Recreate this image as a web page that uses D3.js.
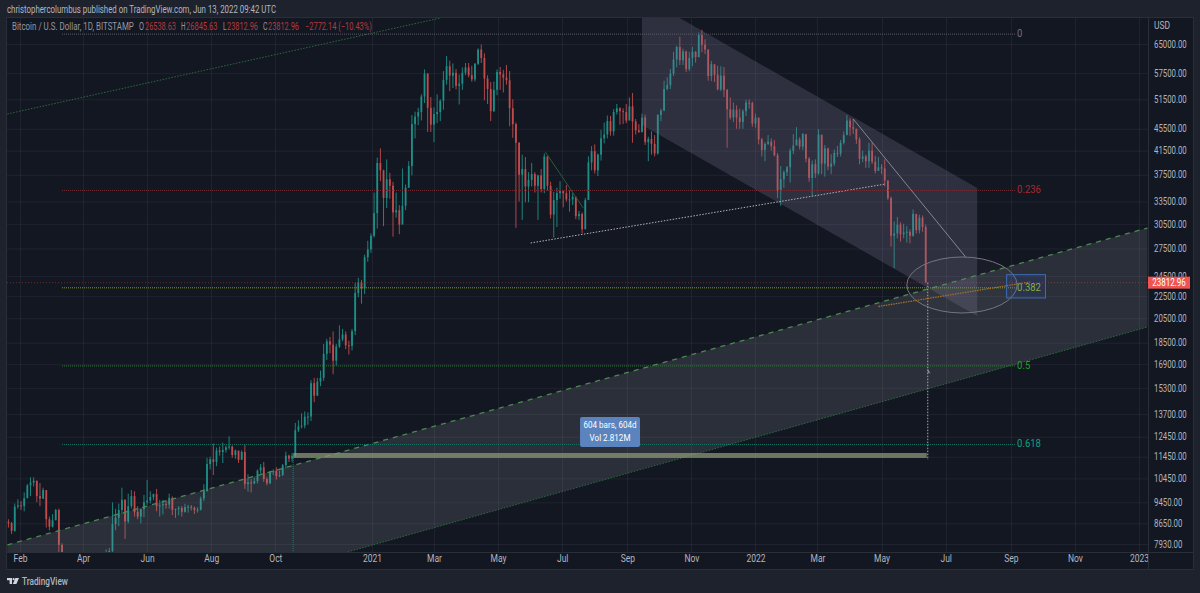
<!DOCTYPE html>
<html>
<head>
<meta charset="utf-8">
<title>BTCUSD 1D</title>
<script src="https://cdn.jsdelivr.net/npm/d3@7"></script>
<style>
  html, body { margin: 0; padding: 0; background: #1e222d; overflow: hidden; }
  svg { display: block; font-family: Roboto, "Liberation Sans", sans-serif; }
</style>
</head>
<body>
<svg id="chart" width="1200" height="593"></svg>
<script>
// one bar every 3 days starting here
const firstBar = "2020-01-20"
const barDays = 3
const firstOpen = 8700

const closes = [
  8660,8380,9280,9330,9300,9610,10150,10270,10350,9700,
  9600,9950,8800,8530,8760,9150,7900,5000,5020,6160,
  5830,6700,6380,6400,6800,7200,7300,6900,6640,7100,
  6850,7500,7700,8620,8860,9150,9550,8720,9300,9700,
  9070,8900,9180,9450,9520,9660,9780,9300,9330,9380,
  9360,9630,9160,9190,9230,9080,9260,9280,9240,9150,
  9160,9600,9900,11100,11330,11200,11750,11680,11780,11910,
  11950,11530,11750,11300,11680,10200,10280,10230,10330,10800,
  10950,10420,10240,10730,10780,10550,10600,11050,11500,11360,
  11500,12800,13000,13050,13550,13560,15600,14800,15700,15950,
  17650,18600,18350,17150,18200,18760,19150,18300,18250,19420,
  22800,23850,23250,26500,27400,29000,31900,39400,38200,34000,
  36800,35800,32000,32300,30400,32900,35500,38900,46400,47900,
  48800,52100,57400,49700,46300,48400,48800,51200,55900,59200,
  56900,57600,54500,55000,57600,58900,57000,56000,59800,63500,
  61300,56200,53800,49000,53600,57800,57200,56400,55800,49600,
  46400,42900,37500,38400,35700,36700,37600,35800,37400,35300,
  40500,35800,31700,33700,34700,35000,34700,33800,33800,34200,
  31500,31800,29800,33700,39500,41400,38200,40800,43700,44400,
  47000,45000,48800,49600,49000,48800,47100,50000,46900,45200,
  44900,47700,43000,43600,42700,41000,48200,49100,53800,54700,
  57400,60900,64200,60700,63000,58500,61300,62900,61500,67500,
  64800,63500,56800,59700,57100,53700,56900,53600,49400,47700,
  49300,47700,46800,49000,50800,50700,46500,47700,43500,41600,
  42700,43100,42300,40700,35100,36800,37900,38700,41500,42400,
  43500,42200,44500,40100,37000,39200,37700,44400,39300,41900,
  38800,39300,41100,41000,42900,44300,47100,45800,45500,43500,
  40100,40500,39700,41500,39600,38100,38700,38500,36600,34000,
  29000,29300,30400,29200,29400,29500,29000,31800,29700,31300,
  30100,23812.96
]
const highs = [
  8800,8700,9400,9570,9500,9850,10200,10500,10500,10350,
  10250,10050,9700,8900,8990,9190,9200,7950,5640,6900,
  7000,6900,6900,6500,7200,7300,7450,7300,7200,7150,
  7230,7750,7800,9450,9200,9400,10050,9570,9800,9950,
  9900,9300,9200,9750,10380,9900,9800,10000,9550,9550,
  9500,9800,9690,9200,9300,9300,9390,9350,9340,9280,
  9250,9680,10200,11400,11450,12100,11900,11950,12150,12000,
  12480,12000,11800,11600,11750,12050,10630,10420,10480,10850,
  11100,11200,10500,10780,10860,10950,10800,11100,11700,11550,
  11630,13200,13350,13750,13850,13800,15800,15950,15950,16450,
  18400,18800,18950,19400,18400,19900,19600,19400,18650,19600,
  23800,24300,24100,26800,28400,29300,34800,40300,41900,38300,
  40000,37800,36400,34800,33000,38500,36000,39700,48200,48900,
  49700,52600,58400,57500,52000,49800,52600,51500,58000,61800,
  60600,59900,58500,57200,58900,60000,60000,59300,60000,63800,
  64850,62500,57000,55400,55500,58400,59000,58300,59500,58000,
  51500,46700,43000,40800,40400,37900,39400,37900,37500,38400,
  41000,40500,36400,34900,35500,36500,35100,35900,35100,34700,
  34000,32200,32000,34000,40500,42300,42600,41000,45300,46700,
  48100,48000,49400,50500,49800,49600,50500,51900,52900,47400,
  46400,48500,48300,44000,45000,44300,48400,49500,55700,56500,
  58500,62900,64500,67000,63700,63200,62900,64200,63100,68200,
  69000,66300,63500,60500,59500,59300,59200,59000,53800,51900,
  50800,50200,49500,49400,51400,51500,51000,48500,47500,43800,
  43000,44300,43700,43400,41100,38900,38200,38900,41900,44500,
  45800,43900,44700,44200,40400,39800,40000,45400,44100,42500,
  42000,40900,41700,42300,43400,45000,48200,47600,47400,45500,
  43900,41500,40800,42900,43000,40600,40400,39200,40000,36600,
  34200,30800,31400,30700,30500,30200,29800,32400,31800,31700,
  31600,30400
]
const lows = [
  8500,8270,8350,9200,9150,9100,9660,9700,10100,9460,
  9300,9580,8500,8400,8500,8800,7650,3850,4400,4950,
  5700,5700,6000,5850,6150,6700,7100,6650,6500,6500,
  6500,6800,7400,7650,8400,8550,9000,8100,8650,9200,
  8900,8800,8650,8880,9350,9400,9530,9100,8900,8980,
  9200,9200,8950,8850,8950,8900,9050,9050,9130,9000,
  9050,9130,9500,9900,10850,10600,11000,11500,11150,11650,
  11800,11400,11350,11150,11320,10000,9880,9850,10200,10230,
  10670,10300,10150,10200,10600,10400,10500,10550,10900,11200,
  11200,11400,12700,12900,12900,13100,13300,14400,14800,15400,
  15750,17200,17700,16200,16800,18100,18600,18000,17600,17900,
  19100,22400,21800,22700,26000,27000,28800,29900,36500,30200,
  32600,33900,28900,31300,29200,31900,32300,36200,37400,43700,
  46200,47100,50700,44900,44900,43000,46600,47000,49300,54800,
  53300,54000,53700,50400,53600,57000,56500,55500,55500,59500,
  60000,51300,50500,47000,48800,52400,53600,53000,54800,46000,
  43800,30000,33500,31000,33400,33400,35700,34800,31000,34800,
  34700,35100,31200,28800,30100,33900,32700,33500,32100,33000,
  31100,31000,29300,31700,33900,38200,37700,37300,39800,42800,
  43700,44200,44200,48300,46300,46400,46600,47900,42900,44400,
  44700,44800,42500,39700,40800,40500,40800,47000,49000,53500,
  53800,56800,58900,59500,59500,57800,58000,59200,60100,61500,
  62800,62300,55700,55600,55400,53500,53300,52000,42000,47300,
  46800,45500,45500,45500,48000,49500,45900,45700,42600,40500,
  39700,42500,41500,40500,34000,32900,35500,37300,36300,40900,
  42700,41700,41600,39500,36400,34300,37000,37500,37600,37200,
  38200,37600,38900,40400,40500,42600,44300,44200,44500,42700,
  39200,39500,38600,38600,39200,37700,38200,37600,35700,33700,
  27700,25300,28700,28300,28700,28200,28100,28900,29300,29300,
  29500,23812.96
]

const priceTicks = [65000,57500,51500,45500,41500,37500,33500,30500,27500,24500,22500,20500,18500,16900,15300,13700,12450,11450,10450,9450,8650,7930]
const timeTicks = ["2020-02-01","2020-04-01","2020-06-01","2020-08-01","2020-10-01","2021-01-01","2021-03-01","2021-05-01","2021-07-01","2021-09-01","2021-11-01","2022-01-01","2022-03-01","2022-05-01","2022-07-01","2022-09-01","2022-11-01","2023-01-01"]
const timeLabels = ["Feb","Apr","Jun","Aug","Oct","2021","Mar","May","Jul","Sep","Nov","2022","Mar","May","Jul","Sep","Nov","2023"]

const lastPrice = 23812.96

// fib retracement
const fibNames = ["0","0.236","0.382","0.5","0.618"]
const fibPrices = [67900,35180,23350,16810,12080]
const fibColors = ["#5c5f69","#7a2c33","#7a9e25","#25802c","#17786a"]
const fibTextColors = ["#6f727c","#a8282f","#93b92a","#22a127","#12a07f"]
const fibStart = "2020-03-12"
const fibEnd = "2022-09-06"

// drawn channels, [date, price]
const upperLine = [["2020-01-20",48420],["2021-03-07",72500]]
const dashedLine = [["2020-01-20",7900],["2023-01-09",29970]]
const lowerLine = [["2020-12-09",7670],["2023-01-09",19760]]
const downChannel = [["2021-09-15",79400],["2022-07-31",35470],["2022-07-31",20700],["2021-09-15",46240]]
const supportLine = [["2021-06-01",28140],["2022-05-05",36070]]
const fallLine = [["2022-04-04",47410],["2022-07-20",26530]]
const smallFall = [["2021-06-15",41270],["2021-07-21",32600]]
const orangeLine = [["2022-04-28",21540],["2022-09-19",23880]]
const circleBox = [["2022-05-25",26530],["2022-09-07",20960]]
const blueBox = [["2022-08-28",24630],["2022-10-04",22330]]
const rangeBand = [["2020-10-18",11630],["2022-06-13",11390]]
const rangeBox = ["2021-07-18",13530]
const rangeText = ["604 bars, 604d","Vol 2.812M"]

const width = 1200, height = 593
const pane = { left: 7, right: 1148, top: 18, bottom: 552, outerRight: 1193, outerBottom: 569 }

const parseDay = d3.utcParse("%Y-%m-%d")
const x = d3.scaleUtc().domain([parseDay("2020-02-01"), parseDay("2023-01-01")]).range([20, 1139])
const y = d3.scaleLog().domain([7930, 65000]).range([544, 44])
const px = d => x(parseDay(d[0]))
const py = d => y(d[1])

const svg = d3.select("#chart")

// shrink text to the narrow look of the original
function squeeze(sel, k) {
    sel.each(function () {
        const t = d3.select(this)
        t.attr("textLength", this.getComputedTextLength() * k).attr("lengthAdjust", "spacingAndGlyphs")
    })
}

svg.append("rect").attr("width", width).attr("height", height).attr("fill", "#1e222d")
svg.append("rect")
    .attr("x", pane.left - 0.5).attr("y", pane.top - 0.5)
    .attr("width", pane.outerRight - pane.left + 1).attr("height", pane.outerBottom - pane.top + 1)
    .attr("fill", "#131722").attr("stroke", "#2a2e39")

svg.append("clipPath").attr("id", "paneClip").append("rect")
    .attr("x", pane.left).attr("y", pane.top)
    .attr("width", pane.right - pane.left).attr("height", pane.bottom - pane.top)

// grid
const grid = svg.append("g").attr("clip-path", "url(#paneClip)").attr("stroke", "#f0f3fa").attr("stroke-opacity", 0.06)
grid.selectAll(".h").data(priceTicks).join("line").attr("class", "h")
    .attr("x1", pane.left).attr("x2", pane.right).attr("y1", d => y(d) + 0.5).attr("y2", d => y(d) + 0.5)
grid.selectAll(".v").data(timeTicks).join("line").attr("class", "v")
    .attr("y1", pane.top).attr("y2", pane.bottom)
    .attr("x1", d => Math.round(x(parseDay(d))) + 0.5).attr("x2", d => Math.round(x(parseDay(d))) + 0.5)

// candles
const bars = closes.map((c, i) => ({
    date: d3.utcDay.offset(parseDay(firstBar), i * barDays + 1),
    open: i == 0 ? firstOpen : closes[i - 1],
    high: highs[i],
    low: lows[i],
    close: c
}))
const upColor = "#1d8f87", downColor = "#c24c4c"
const series = svg.append("g").attr("clip-path", "url(#paneClip)")
series.selectAll(".wick").data(bars).join("line").attr("class", "wick")
    .attr("x1", d => x(d.date)).attr("x2", d => x(d.date))
    .attr("y1", d => y(d.high)).attr("y2", d => y(d.low))
    .attr("stroke", d => d.close >= d.open ? upColor : downColor).attr("stroke-width", 0.9)
series.selectAll(".body").data(bars).join("rect").attr("class", "body")
    .attr("x", d => x(d.date) - 0.9).attr("width", 1.8)
    .attr("y", d => y(Math.max(d.open, d.close)))
    .attr("height", d => Math.max(1, Math.abs(y(d.open) - y(d.close))))
    .attr("fill", d => d.close >= d.open ? upColor : downColor)

// drawings go above the candles
const draw = svg.append("g").attr("clip-path", "url(#paneClip)")

// last price line
draw.append("line")
    .attr("x1", pane.left).attr("x2", pane.right).attr("y1", y(lastPrice)).attr("y2", y(lastPrice))
    .attr("stroke", "#a8403f").attr("stroke-opacity", 0.55).attr("stroke-dasharray", "1 2")

// long channel fill under the dashed line
draw.append("polygon")
    .attr("points", [dashedLine[0], dashedLine[1], lowerLine[1], lowerLine[0], [dashedLine[0][0], lowerLine[0][1]]]
        .map(d => px(d) + "," + py(d)).join(" "))
    .attr("fill", "#8c8f99").attr("fill-opacity", 0.2)

draw.append("polygon")
    .attr("points", downChannel.map(d => px(d) + "," + py(d)).join(" "))
    .attr("fill", "#7a7694").attr("fill-opacity", 0.27)

const seg = d3.line().x(px).y(py)
draw.append("path").attr("d", seg(upperLine)).attr("fill", "none")
    .attr("stroke", "#2c6a3c").attr("stroke-dasharray", "1.5 1.5")
draw.append("path").attr("d", seg(dashedLine)).attr("fill", "none")
    .attr("stroke", "#4a8a50").attr("stroke-width", 1.3).attr("stroke-dasharray", "5 5")
draw.append("path").attr("d", seg(lowerLine)).attr("fill", "none")
    .attr("stroke", "#2c6a3c").attr("stroke-dasharray", "1.5 1.5")
draw.append("path").attr("d", seg(supportLine)).attr("fill", "none")
    .attr("stroke", "#b0b2b8").attr("stroke-dasharray", "1.5 1.5")
draw.append("path").attr("d", seg(fallLine)).attr("fill", "none")
    .attr("stroke", "#8e9098").attr("stroke-width", 0.9)
draw.append("path").attr("d", seg(smallFall)).attr("fill", "none")
    .attr("stroke", "#2c5a38")

// fib levels
draw.selectAll(".fib").data(fibPrices).join("line").attr("class", "fib")
    .attr("x1", x(parseDay(fibStart))).attr("x2", x(parseDay(fibEnd)))
    .attr("y1", d => y(d) + 0.5).attr("y2", d => y(d) + 0.5)
    .attr("stroke", (d, i) => fibColors[i]).attr("stroke-dasharray", "1 1")
draw.selectAll(".fibText").data(fibNames).join("text").attr("class", "fibText")
    .attr("x", x(parseDay(fibEnd)) + 1).attr("y", (d, i) => y(fibPrices[i]) + 3.5)
    .attr("fill", (d, i) => fibTextColors[i]).attr("font-size", 10)
    .text(d => d)
    .call(squeeze, 0.95)

// range measurement
const bandX0 = px(rangeBand[0]), bandX1 = px(rangeBand[1])
draw.append("rect")
    .attr("x", bandX0).attr("width", bandX1 - bandX0)
    .attr("y", py(rangeBand[0])).attr("height", py(rangeBand[1]) - py(rangeBand[0]))
    .attr("fill", "#8e9a78").attr("fill-opacity", 0.72)
draw.append("line").attr("x1", bandX0).attr("x2", bandX0)
    .attr("y1", py(rangeBand[1])).attr("y2", pane.bottom)
    .attr("stroke", "#1f7f7a").attr("stroke-dasharray", "1 1")
draw.append("line").attr("x1", bandX1 + 1).attr("x2", bandX1 + 1)
    .attr("y1", y(lastPrice)).attr("y2", py(rangeBand[1]) + 2)
    .attr("stroke", "#a8aab0").attr("stroke-dasharray", "1.5 1.5")

const boxW = 60, boxH = 30
const boxX = x(parseDay(rangeBox[0])), boxY = y(rangeBox[1])
draw.append("rect").attr("x", boxX).attr("y", boxY).attr("width", boxW).attr("height", boxH)
    .attr("rx", 2).attr("fill", "#5b83bd")
draw.selectAll(".rangeText").data(rangeText).join("text").attr("class", "rangeText")
    .attr("x", boxX + boxW / 2).attr("y", (d, i) => boxY + 11 + i * 13)
    .attr("text-anchor", "middle").attr("fill", "#ffffff").attr("font-size", 9.5)
    .text(d => d)
    .call(squeeze, 0.85)

// ellipse, rectangle and orange line near the last bar
draw.append("ellipse")
    .attr("cx", (px(circleBox[0]) + px(circleBox[1])) / 2).attr("cy", (py(circleBox[0]) + py(circleBox[1])) / 2)
    .attr("rx", (px(circleBox[1]) - px(circleBox[0])) / 2).attr("ry", (py(circleBox[1]) - py(circleBox[0])) / 2)
    .attr("fill", "#9598a1").attr("fill-opacity", 0.05).attr("stroke", "#74767e").attr("stroke-width", 1)
draw.append("rect")
    .attr("x", px(blueBox[0])).attr("y", py(blueBox[0]))
    .attr("width", px(blueBox[1]) - px(blueBox[0])).attr("height", py(blueBox[1]) - py(blueBox[0]))
    .attr("fill", "#2962ff").attr("fill-opacity", 0.1).attr("stroke", "#3f6cb0")
draw.append("path").attr("d", seg(orangeLine)).attr("fill", "none")
    .attr("stroke", "#a86f22").attr("stroke-width", 1.3).attr("stroke-dasharray", "1.5 1")

// little cursor mark on the vertical line
draw.append("path")
    .attr("transform", "translate(" + (bandX1 + 1) + "," + y(16600) + ")")
    .attr("d", "M0,0 L0,5 L1.2,4 L3,5.5 Z").attr("fill", "#8a8c94")

// axes
const yAxis = svg.append("g").attr("transform", "translate(" + (pane.right + 6) + ",0)")
    .call(d3.axisRight(y).tickValues(priceTicks).tickFormat(d3.format(".2f")).tickSize(0).tickPadding(0))
yAxis.select(".domain").remove()
yAxis.selectAll("text").attr("fill", "#b2b5be").attr("font-size", 10).attr("font-family", "Roboto").call(squeeze, 0.78)

const timeFormat = (d, i) => timeLabels[i]
const xAxis = svg.append("g").attr("transform", "translate(0," + (pane.bottom + 3) + ")")
    .call(d3.axisBottom(x).tickValues(timeTicks.map(parseDay)).tickFormat(timeFormat).tickSize(0).tickPadding(0))
xAxis.select(".domain").remove()
xAxis.selectAll("text").attr("fill", "#b2b5be").attr("font-size", 10).attr("font-family", "Roboto")
    .call(squeeze, 0.85)

svg.append("line").attr("x1", pane.right + 0.5).attr("x2", pane.right + 0.5).attr("y1", pane.top).attr("y2", pane.outerBottom).attr("stroke", "#2a2e39")
svg.append("line").attr("x1", pane.left).attr("x2", pane.outerRight).attr("y1", pane.bottom + 0.5).attr("y2", pane.bottom + 0.5).attr("stroke", "#2a2e39")

svg.append("text").attr("x", pane.right + 6).attr("y", 29).attr("fill", "#b2b5be").attr("font-size", 10).text("USD").call(squeeze, 0.85)

// last price tag
const tagY = y(lastPrice)
svg.append("rect").attr("x", pane.right).attr("y", tagY - 6).attr("width", 42).attr("height", 12).attr("fill", "#f05350")
svg.append("text").attr("x", pane.right + 21).attr("y", tagY + 3.5).attr("text-anchor", "middle")
    .attr("fill", "#ffffff").attr("font-size", 10).text(d3.format(".2f")(lastPrice)).call(squeeze, 0.8)

// header texts
const textColor = "#b2b5be", redColor = "#b23a3d", titleColor = "#9598a1"
svg.append("text").attr("x", 7).attr("y", 13).attr("fill", textColor).attr("font-size", 10)
    .attr("textLength", 269).attr("lengthAdjust", "spacingAndGlyphs")
    .text("christophercolumbus published on TradingView.com, Jun 13, 2022 09:42 UTC")
const legend = [
    ["Bitcoin / U.S. Dollar, 1D, BITSTAMP", 12, titleColor, 122],
    ["O", 139, titleColor, 5], ["26538.63", 145, redColor, 31],
    ["H", 181, titleColor, 4.5], ["26845.63", 186, redColor, 31.5],
    ["L", 223, titleColor, 3.5], ["23812.96", 227, redColor, 31],
    ["C", 263, titleColor, 4.5], ["23812.96", 268, redColor, 31],
    ["\u22122772.14 (\u221210.43%)", 305, redColor, 67]
]
// each piece is scaled to its own width, so the boxes stay side by side
svg.selectAll(".legend").data(legend).join("text").attr("class", "legend")
    .attr("font-size", 10).attr("fill", d => d[2]).text(d => d[0])
    .attr("transform", function (d) {
        return "translate(" + d[1] + ",30) scale(" + (d[3] / this.getComputedTextLength()) + ",1)"
    })

// footer logo
const logo = svg.append("g").attr("transform", "translate(7,578)").attr("fill", "#d1d4dc")
logo.append("path").attr("d", "M0,0 H5 V6 H2.6 V2.2 H0 Z")
logo.append("circle").attr("cx", 6.6).attr("cy", 1.2).attr("r", 1.1)
logo.append("path").attr("d", "M8.4,0 H12 L9.4,6 H5.8 Z")
svg.append("text").attr("x", 22).attr("y", 585).attr("fill", "#b2b5be").attr("font-size", 10.5).attr("font-weight", 500)
    .attr("textLength", 46).attr("lengthAdjust", "spacingAndGlyphs").text("TradingView")
</script>
</body>
</html>
